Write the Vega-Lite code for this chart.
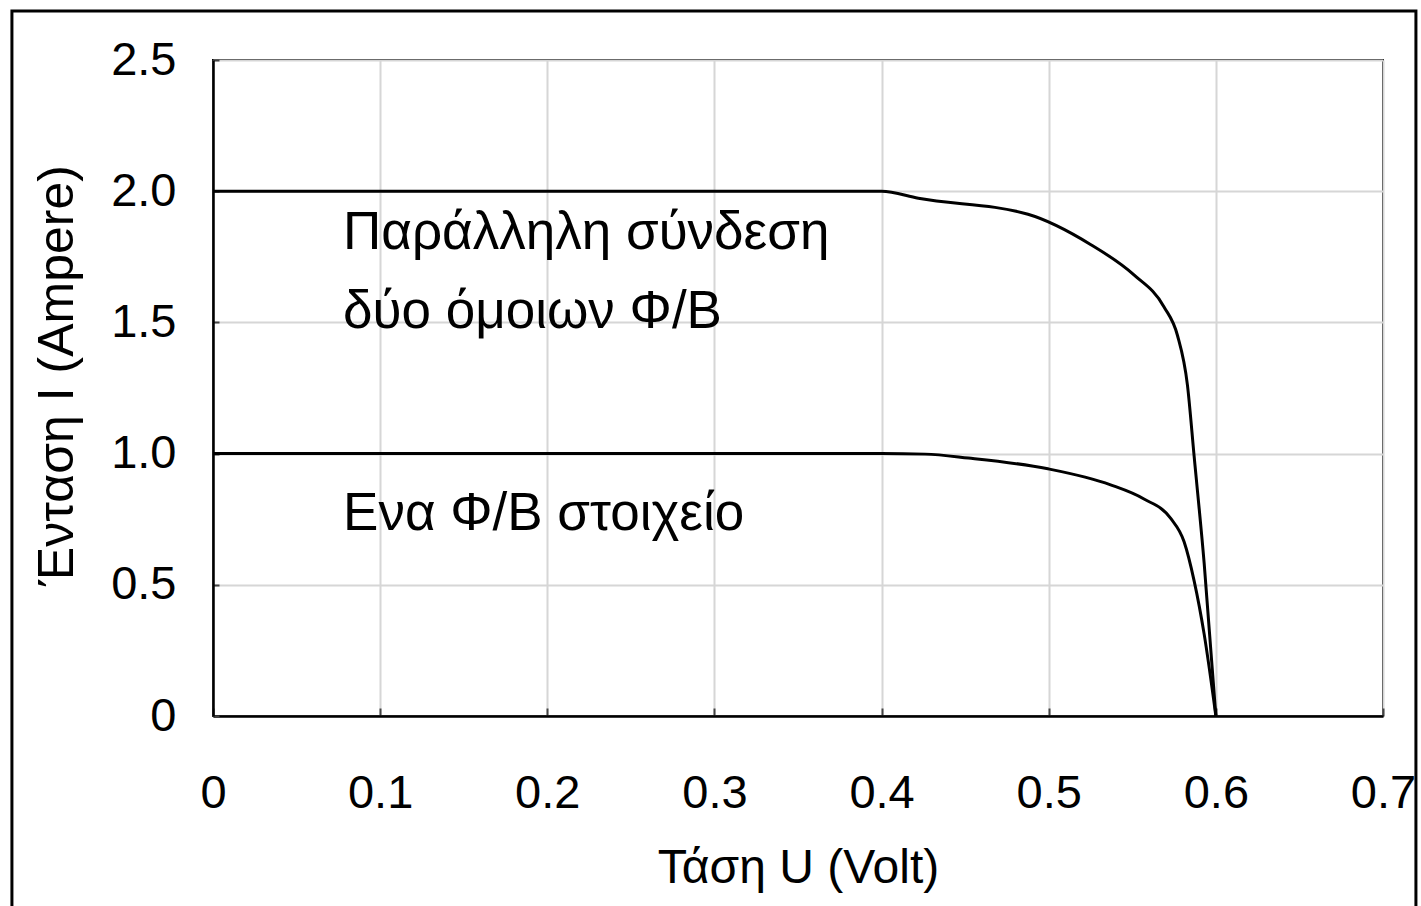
{
  "$schema": "https://vega.github.io/schema/vega-lite/v6.json",
  "width": 1170,
  "height": 656,
  "autosize": {"type": "none"},
  "padding": {"left": 213, "top": 60, "right": 38, "bottom": 190},
  "background": "white",
  "config": {
    "font": "Liberation Sans",
    "view": {"stroke": "black", "strokeWidth": 2},
    "axis": {
      "grid": true,
      "gridColor": "#d6d6d6",
      "gridWidth": 2,
      "domainColor": "black",
      "domainWidth": 2.5,
      "labelColor": "black",
      "titleColor": "black",
      "labelFont": "Liberation Sans",
      "titleFont": "Liberation Sans",
      "labelFontSize": 47,
      "titleFontSize": 48,
      "titleFontWeight": "normal",
      "tickColor": "#444444",
      "tickWidth": 2
    }
  },
  "datasets": {
    "curves": [
      {"series": "parallel", "U": 0, "I": 2.0},
      {"series": "parallel", "U": 0.1, "I": 2.0},
      {"series": "parallel", "U": 0.2, "I": 2.0},
      {"series": "parallel", "U": 0.3, "I": 2.0},
      {"series": "parallel", "U": 0.4, "I": 2.0},
      {"series": "parallel", "U": 0.422, "I": 1.973},
      {"series": "parallel", "U": 0.4876, "I": 1.912},
      {"series": "parallel", "U": 0.525, "I": 1.797},
      {"series": "parallel", "U": 0.551, "I": 1.681},
      {"series": "parallel", "U": 0.569, "I": 1.559},
      {"series": "parallel", "U": 0.577, "I": 1.451},
      {"series": "parallel", "U": 0.583, "I": 1.261},
      {"series": "parallel", "U": 0.587, "I": 0.99},
      {"series": "parallel", "U": 0.593, "I": 0.583},
      {"series": "parallel", "U": 0.6, "I": 0},
      {"series": "single", "U": 0, "I": 1.0},
      {"series": "single", "U": 0.1, "I": 1.0},
      {"series": "single", "U": 0.2, "I": 1.0},
      {"series": "single", "U": 0.3, "I": 1.0},
      {"series": "single", "U": 0.4, "I": 1.0},
      {"series": "single", "U": 0.426, "I": 0.998},
      {"series": "single", "U": 0.452, "I": 0.983},
      {"series": "single", "U": 0.4995, "I": 0.942},
      {"series": "single", "U": 0.537, "I": 0.881},
      {"series": "single", "U": 0.557, "I": 0.827},
      {"series": "single", "U": 0.573, "I": 0.753},
      {"series": "single", "U": 0.581, "I": 0.664},
      {"series": "single", "U": 0.587, "I": 0.515},
      {"series": "single", "U": 0.593, "I": 0.312},
      {"series": "single", "U": 0.6, "I": 0}
    ],
    "labels": [
      {"U": 0.0778, "I": 1.78, "text": "Παράλληλη σύνδεση"},
      {"U": 0.0778, "I": 1.479, "text": "δύο όμοιων Φ/Β"},
      {"U": 0.0778, "I": 0.709, "text": "Ενα Φ/Β στοιχείο"}
    ]
  },
  "layer": [
    {
      "data": {"values": [{}]},
      "mark": {"type": "rect", "fill": "transparent", "stroke": "black", "strokeWidth": 3, "clip": false},
      "encoding": {
        "x": {"datum": -0.1203, "type": "quantitative", "scale": {"domain": [0, 0.7], "nice": false, "zero": false}},
        "x2": {"datum": 0.7197},
        "y": {"datum": -0.75, "type": "quantitative", "scale": {"domain": [0, 2.5], "nice": false, "zero": false}},
        "y2": {"datum": 2.687}
      }
    },
    {
      "data": {"name": "curves"},
      "mark": {"type": "line", "interpolate": "monotone", "strokeWidth": 3},
      "encoding": {
        "x": {
          "field": "U", "type": "quantitative",
          "scale": {"domain": [0, 0.7], "nice": false, "zero": false},
          "axis": {
            "grid": true,
            "values": [0, 0.1, 0.2, 0.3, 0.4, 0.5, 0.6, 0.7],
            "labelExpr": "datum.value == 0 ? '0' : format(datum.value, '.1f')",
            "tickSize": -8,
            "labelPadding": 62,
            "labelFlush": false,
            "labelOverlap": false,
            "title": "Τάση U (Volt)",
            "titlePadding": 28
          }
        },
        "y": {
          "field": "I", "type": "quantitative",
          "scale": {"domain": [0, 2.5], "nice": false, "zero": false},
          "axis": {
            "grid": true,
            "values": [0, 0.5, 1, 1.5, 2, 2.5],
            "labelExpr": "datum.value == 0 ? '0' : format(datum.value, '.1f')",
            "tickSize": -6,
            "labelPadding": 43,
            "labelFlush": false,
            "labelOverlap": false,
            "title": "Ένταση I (Ampere)",
            "titleFontSize": 50,
            "titlePadding": 28,
            "titleY": 315
          }
        },
        "detail": {"field": "series", "type": "nominal"},
        "color": {"value": "black"}
      }
    },
    {
      "data": {"name": "labels"},
      "mark": {"type": "text", "align": "left", "baseline": "alphabetic", "fontSize": 53, "font": "Liberation Sans", "color": "black"},
      "encoding": {
        "x": {"field": "U", "type": "quantitative"},
        "y": {"field": "I", "type": "quantitative"},
        "text": {"field": "text"}
      }
    }
  ]
}
